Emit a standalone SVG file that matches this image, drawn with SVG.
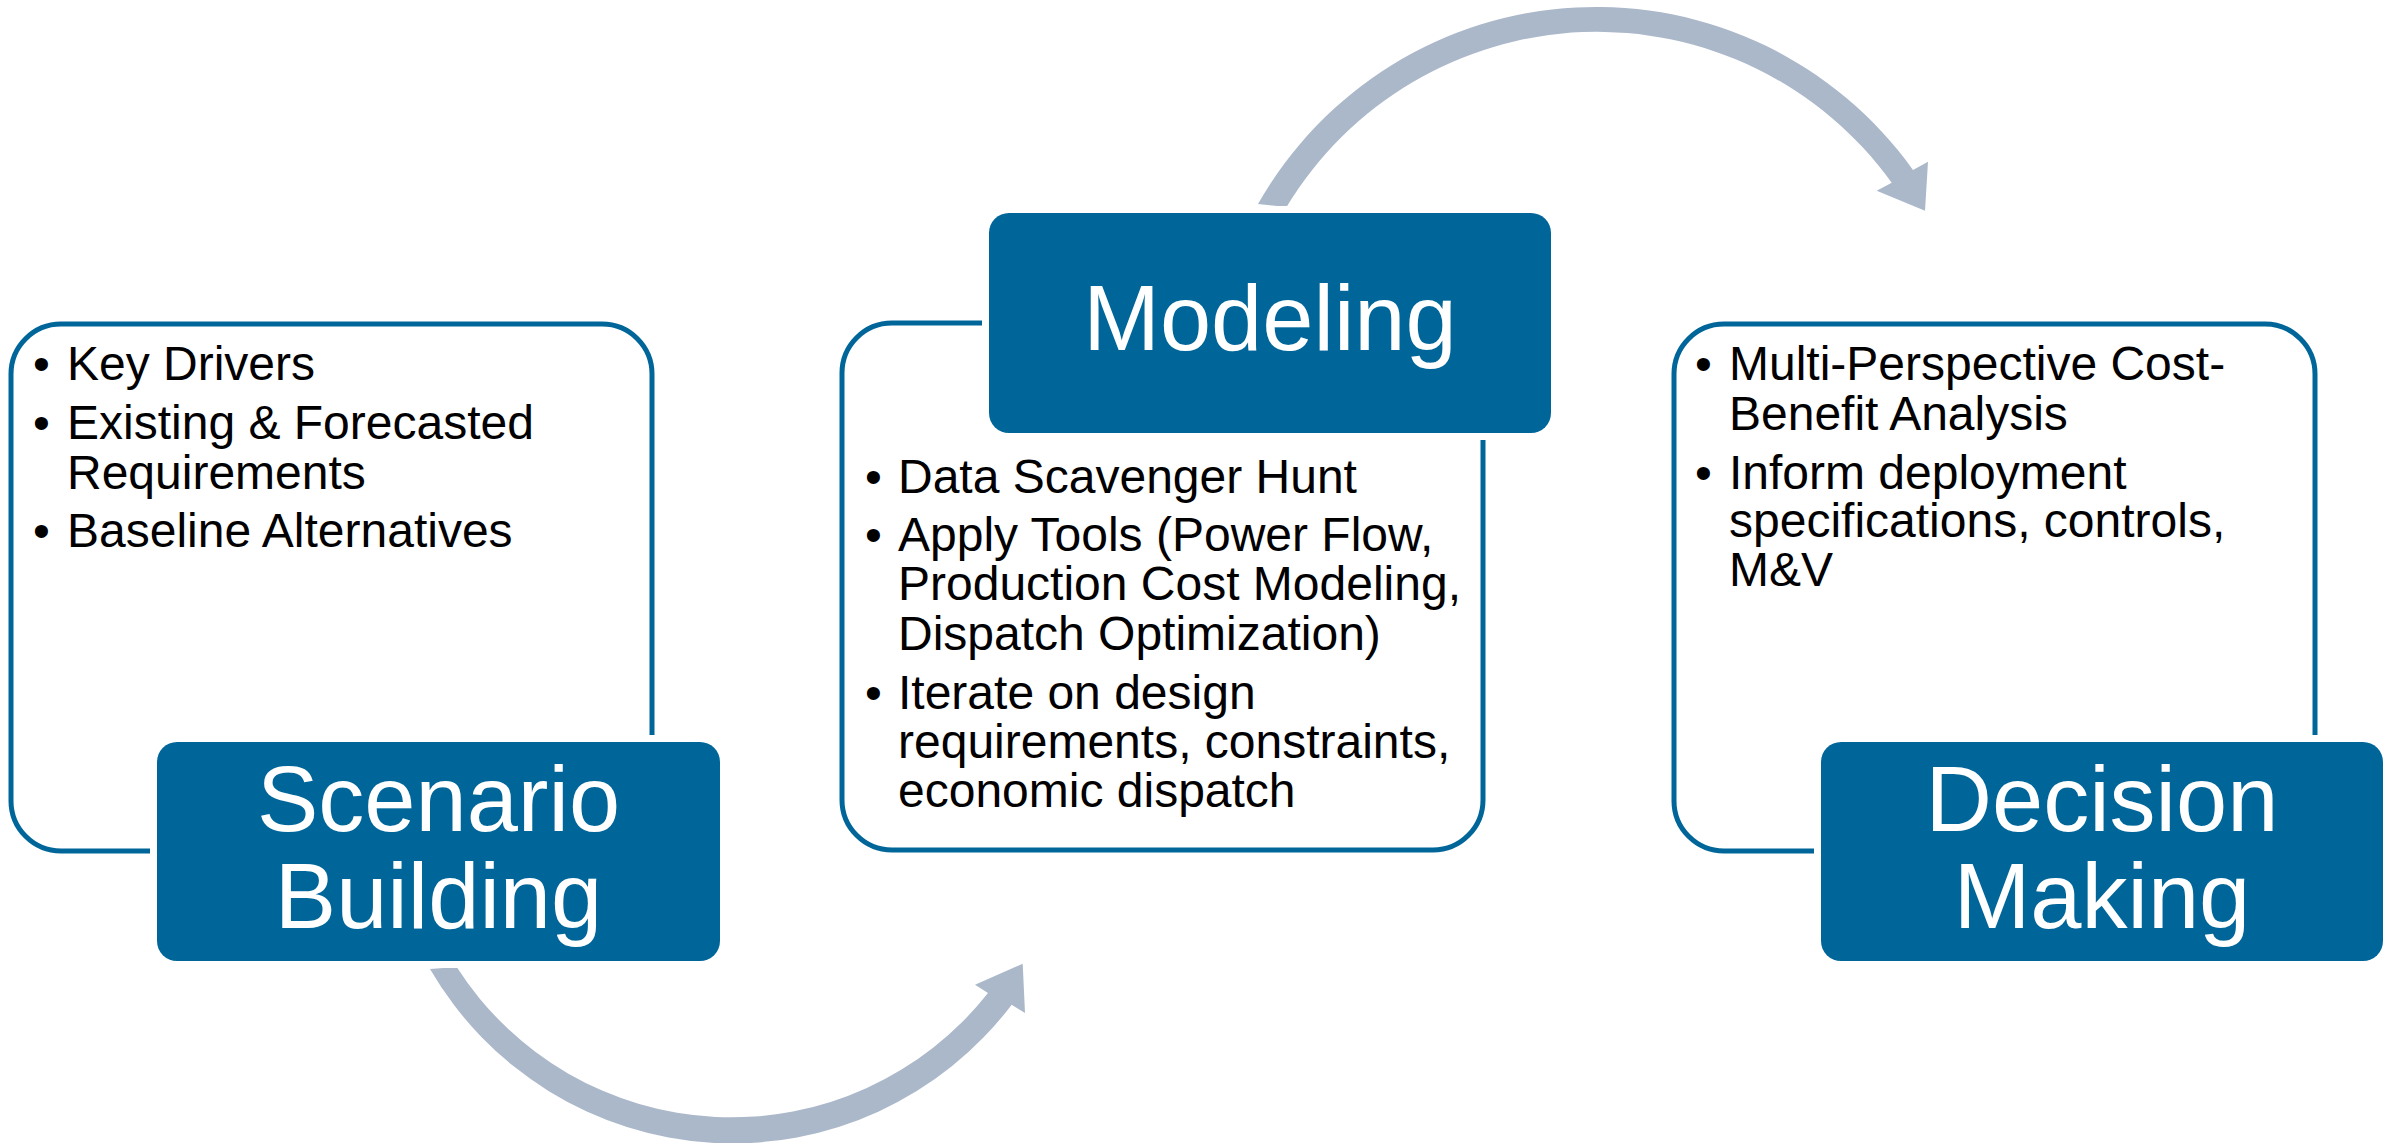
<svg xmlns="http://www.w3.org/2000/svg" width="2403" height="1143" viewBox="0 0 2403 1143">
<style>
.outline{fill:#ffffff;stroke:#006699;stroke-width:5}
.gap{fill:#ffffff}
.head{fill:#006699}
.title{font-family:"Liberation Sans",Arial,sans-serif;font-size:92px;fill:#ffffff;text-anchor:middle}
.body{font-family:"Liberation Sans",Arial,sans-serif;font-size:48px;fill:#000000}
.arrow{fill:#ABB8CA}
</style>
<rect width="2403" height="1143" fill="#ffffff"/>
<g id="connectors">
<path class="arrow" d="M 1258 204 A 389 389 0 0 1 1913 170 L 1928 161.7 L 1925 210.7 L 1876.7 190.7 L 1891.7 182.7 A 363 363 0 0 0 1286.5 207 Z"/>
<path class="arrow" d="M 430 969 A 350 350 0 0 0 1011.7 1004.7 L 1025 1013 L 1022.7 963.7 L 975 984.7 L 988 993 A 326.5 326.5 0 0 1 456.7 967 Z"/>
</g>
<g id="node-scenario">
<rect class="outline" x="11" y="324" width="641" height="527" rx="50"/>
<text class="body"><tspan x="33" y="380">•</tspan><tspan x="67" y="380">Key Drivers</tspan><tspan x="33" y="438.5">•</tspan><tspan x="67" y="438.5">Existing &amp; Forecasted</tspan><tspan x="67" y="488.5">Requirements</tspan><tspan x="33" y="547">•</tspan><tspan x="67" y="547">Baseline Alternatives</tspan></text>
<rect class="gap" x="150" y="735" width="577" height="233" rx="26"/>
<rect class="head" x="157" y="742" width="563" height="219" rx="20"/>
<text class="title"><tspan x="438.5" y="831">Scenario</tspan><tspan x="438.5" y="928">Building</tspan></text>
</g>
<g id="node-modeling">
<rect class="outline" x="842" y="323" width="641" height="527" rx="50"/>
<text class="body"><tspan x="865" y="493">•</tspan><tspan x="898" y="493">Data Scavenger Hunt</tspan><tspan x="865" y="551">•</tspan><tspan x="898" y="551">Apply Tools (Power Flow,</tspan><tspan x="898" y="600">Production Cost Modeling,</tspan><tspan x="898" y="650">Dispatch Optimization)</tspan><tspan x="865" y="709">•</tspan><tspan x="898" y="709">Iterate on design</tspan><tspan x="898" y="758">requirements, constraints,</tspan><tspan x="898" y="807">economic dispatch</tspan></text>
<rect class="gap" x="982" y="206" width="576" height="234" rx="26"/>
<rect class="head" x="989" y="213" width="562" height="220" rx="20"/>
<text class="title" x="1270" y="350">Modeling</text>
</g>
<g id="node-decision">
<rect class="outline" x="1674" y="324" width="641" height="527" rx="50"/>
<text class="body"><tspan x="1695" y="380">•</tspan><tspan x="1729" y="380">Multi-Perspective Cost-</tspan><tspan x="1729" y="430">Benefit Analysis</tspan><tspan x="1695" y="489">•</tspan><tspan x="1729" y="489">Inform deployment</tspan><tspan x="1729" y="537">specifications, controls,</tspan><tspan x="1729" y="586">M&amp;V</tspan></text>
<rect class="gap" x="1814" y="735" width="576" height="233" rx="26"/>
<rect class="head" x="1821" y="742" width="562" height="219" rx="20"/>
<text class="title"><tspan x="2102" y="831">Decision</tspan><tspan x="2102" y="928">Making</tspan></text>
</g>
</svg>
